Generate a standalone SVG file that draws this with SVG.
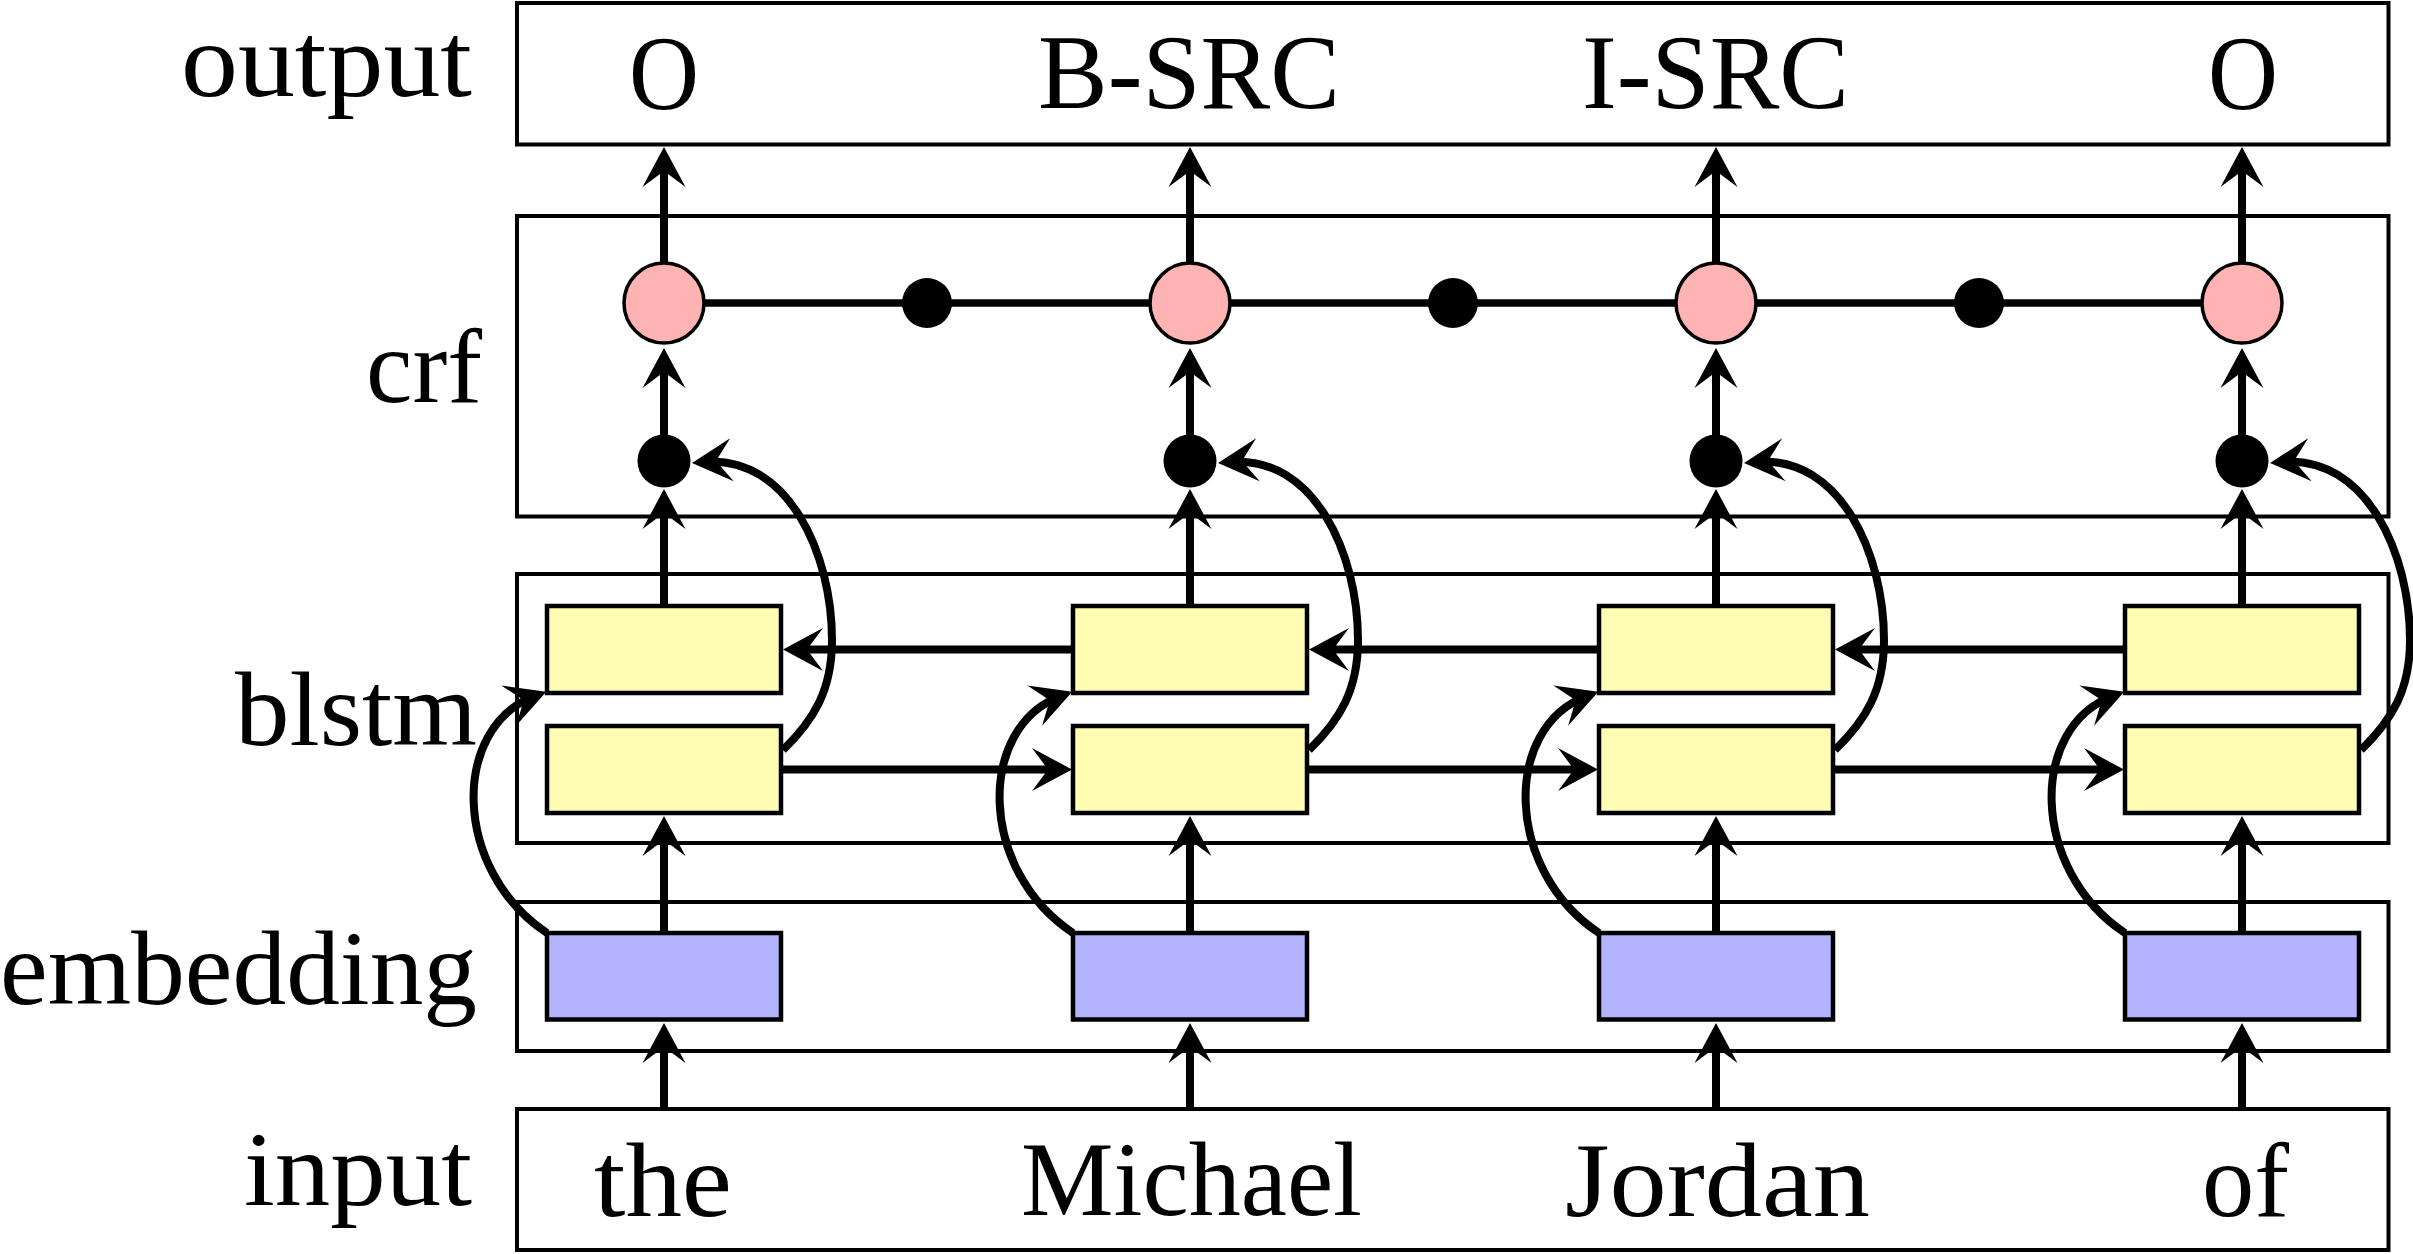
<svg xmlns="http://www.w3.org/2000/svg" width="2413" height="1254" viewBox="0 0 2413 1254">
  <style>
    .layer { fill: none; stroke: #000; stroke-width: 4; }
    .lbl { font-family: "Liberation Serif", "DejaVu Serif", serif; font-size: 106px; fill: #000; }
    .tok { font-family: "Liberation Serif", "DejaVu Serif", serif; font-size: 106px; fill: #000; }
    .lstm { fill: #fffdb3; stroke: #000; stroke-width: 4.5; }
    .emb { fill: #b3b3ff; stroke: #000; stroke-width: 4.5; }
    .crfn { fill: #ffb3b3; stroke: #000; stroke-width: 3.5; }
    .dot { fill: #000; }
    .edge { fill: none; stroke: #000; stroke-width: 8; marker-end: url(#stealth); }
    .chain { fill: none; stroke: #000; stroke-width: 7.5; }
  </style>
  <defs>
    <marker id="stealth" markerUnits="userSpaceOnUse" viewBox="-45 -25 50 50" markerWidth="50" markerHeight="50" refX="-12" refY="0" orient="auto">
      <path d="M0,0 L-40,-21.5 L-24,0 L-40,21.5 Z" fill="#000"/>
    </marker>
  </defs>
  <rect width="2413" height="1254" fill="#fff"/>

  <!-- layers -->
  <g id="layer-output">
    <rect class="layer" x="517" y="3" width="1871.5" height="141.5"/>
    <text class="lbl" x="181" y="96" textLength="291" lengthAdjust="spacingAndGlyphs">output</text>
    <text class="tok" x="629" y="109" textLength="70" lengthAdjust="spacingAndGlyphs">O</text>
    <text class="tok" x="1038" y="108" textLength="302" lengthAdjust="spacingAndGlyphs">B-SRC</text>
    <text class="tok" x="1582" y="108" textLength="267" lengthAdjust="spacingAndGlyphs">I-SRC</text>
    <text class="tok" x="2208" y="109" textLength="70" lengthAdjust="spacingAndGlyphs">O</text>
  </g>
  <g id="layer-crf">
    <rect class="layer" x="517" y="216" width="1871.5" height="300.5"/>
    <text class="lbl" x="366" y="402" textLength="116" lengthAdjust="spacingAndGlyphs">crf</text>
  </g>
  <g id="layer-blstm">
    <rect class="layer" x="517" y="574" width="1871.5" height="269"/>
    <text class="lbl" x="235" y="745" textLength="242" lengthAdjust="spacingAndGlyphs">blstm</text>
  </g>
  <g id="layer-embedding">
    <rect class="layer" x="517" y="902" width="1871.5" height="149"/>
    <text class="lbl" x="0" y="1004" textLength="477" lengthAdjust="spacingAndGlyphs">embedding</text>
  </g>
  <g id="layer-input">
    <rect class="layer" x="517" y="1109" width="1871.5" height="141"/>
    <text class="lbl" x="244" y="1205" textLength="228" lengthAdjust="spacingAndGlyphs">input</text>
    <text class="tok" x="594" y="1216" textLength="138" lengthAdjust="spacingAndGlyphs">the</text>
    <text class="tok" x="1021" y="1215" textLength="341" lengthAdjust="spacingAndGlyphs">Michael</text>
    <text class="tok" x="1565" y="1216" textLength="305" lengthAdjust="spacingAndGlyphs">Jordan</text>
    <text class="tok" x="2202" y="1216" textLength="87" lengthAdjust="spacingAndGlyphs">of</text>
  </g>

  <!-- connectors -->
  <g id="connectors">
    <line class="chain" x1="664" y1="303" x2="2242" y2="303"/>
    <!-- input -> embedding -->
    <path class="edge" d="M664,1107 V1035"/>
    <path class="edge" d="M1190,1107 V1035"/>
    <path class="edge" d="M1716,1107 V1035"/>
    <path class="edge" d="M2242,1107 V1035"/>
    <!-- embedding -> forward lstm -->
    <path class="edge" d="M664,933 V828"/>
    <path class="edge" d="M1190,933 V828"/>
    <path class="edge" d="M1716,933 V828"/>
    <path class="edge" d="M2242,933 V828"/>
    <!-- backward lstm -> crf input -->
    <path class="edge" d="M664,606 V501"/>
    <path class="edge" d="M1190,606 V501"/>
    <path class="edge" d="M1716,606 V501"/>
    <path class="edge" d="M2242,606 V501"/>
    <!-- crf input -> crf node -->
    <path class="edge" d="M664,435 V360"/>
    <path class="edge" d="M1190,435 V360"/>
    <path class="edge" d="M1716,435 V360"/>
    <path class="edge" d="M2242,435 V360"/>
    <!-- crf node -> output -->
    <path class="edge" d="M664,263 V159"/>
    <path class="edge" d="M1190,263 V159"/>
    <path class="edge" d="M1716,263 V159"/>
    <path class="edge" d="M2242,263 V159"/>
    <!-- forward recurrences -->
    <path class="edge" d="M781,769.5 H1060"/>
    <path class="edge" d="M1307,769.5 H1586"/>
    <path class="edge" d="M1833,769.5 H2112"/>
    <!-- backward recurrences -->
    <path class="edge" d="M1073,649.5 H795"/>
    <path class="edge" d="M1599,649.5 H1321"/>
    <path class="edge" d="M2125,649.5 H1847"/>
    <!-- embedding -> backward lstm (left curves) -->
    <path class="edge" d="M547,933 C452,870 450.5,727 535,696"/>
    <path class="edge" d="M1073,933 C978,870 976.5,727 1061,696"/>
    <path class="edge" d="M1599,933 C1504,870 1502.5,727 1587,696"/>
    <path class="edge" d="M2125,933 C2030,870 2028.5,727 2113,696"/>
    <!-- forward lstm -> crf input (right curves) -->
    <path class="edge" d="M783,750 C814,720 832,690 832,640 C832,555 789,455 704,462"/>
    <path class="edge" d="M1309,750 C1340,720 1358,690 1358,640 C1358,555 1315,455 1230,462"/>
    <path class="edge" d="M1835,750 C1866,720 1884,690 1884,640 C1884,555 1841,455 1756,462"/>
    <path class="edge" d="M2361,750 C2392,720 2410,690 2410,640 C2410,555 2367,455 2282,462"/>
  </g>

  <!-- nodes -->
  <g id="emb-1"><rect class="emb" x="547" y="933" width="234" height="86.5"/></g>
  <g id="emb-2"><rect class="emb" x="1073" y="933" width="234" height="86.5"/></g>
  <g id="emb-3"><rect class="emb" x="1599" y="933" width="234" height="86.5"/></g>
  <g id="emb-4"><rect class="emb" x="2125" y="933" width="234" height="86.5"/></g>

  <g id="fwd-1"><rect class="lstm" x="547" y="726" width="234" height="87"/></g>
  <g id="fwd-2"><rect class="lstm" x="1073" y="726" width="234" height="87"/></g>
  <g id="fwd-3"><rect class="lstm" x="1599" y="726" width="234" height="87"/></g>
  <g id="fwd-4"><rect class="lstm" x="2125" y="726" width="234" height="87"/></g>

  <g id="bwd-1"><rect class="lstm" x="547" y="606" width="234" height="87"/></g>
  <g id="bwd-2"><rect class="lstm" x="1073" y="606" width="234" height="87"/></g>
  <g id="bwd-3"><rect class="lstm" x="1599" y="606" width="234" height="87"/></g>
  <g id="bwd-4"><rect class="lstm" x="2125" y="606" width="234" height="87"/></g>

  <g id="crfin-1"><circle class="dot" cx="664" cy="461" r="26.5"/></g>
  <g id="crfin-2"><circle class="dot" cx="1190" cy="461" r="26.5"/></g>
  <g id="crfin-3"><circle class="dot" cx="1716" cy="461" r="26.5"/></g>
  <g id="crfin-4"><circle class="dot" cx="2242" cy="461" r="26.5"/></g>

  <g id="crf-1"><circle class="crfn" cx="664" cy="303" r="40"/></g>
  <g id="crf-2"><circle class="crfn" cx="1190" cy="303" r="40"/></g>
  <g id="crf-3"><circle class="crfn" cx="1716" cy="303" r="40"/></g>
  <g id="crf-4"><circle class="crfn" cx="2242" cy="303" r="40"/></g>

  <g id="factor-12"><circle class="dot" cx="927" cy="303" r="25"/></g>
  <g id="factor-23"><circle class="dot" cx="1453" cy="303" r="25"/></g>
  <g id="factor-34"><circle class="dot" cx="1979" cy="303" r="25"/></g>
</svg>
